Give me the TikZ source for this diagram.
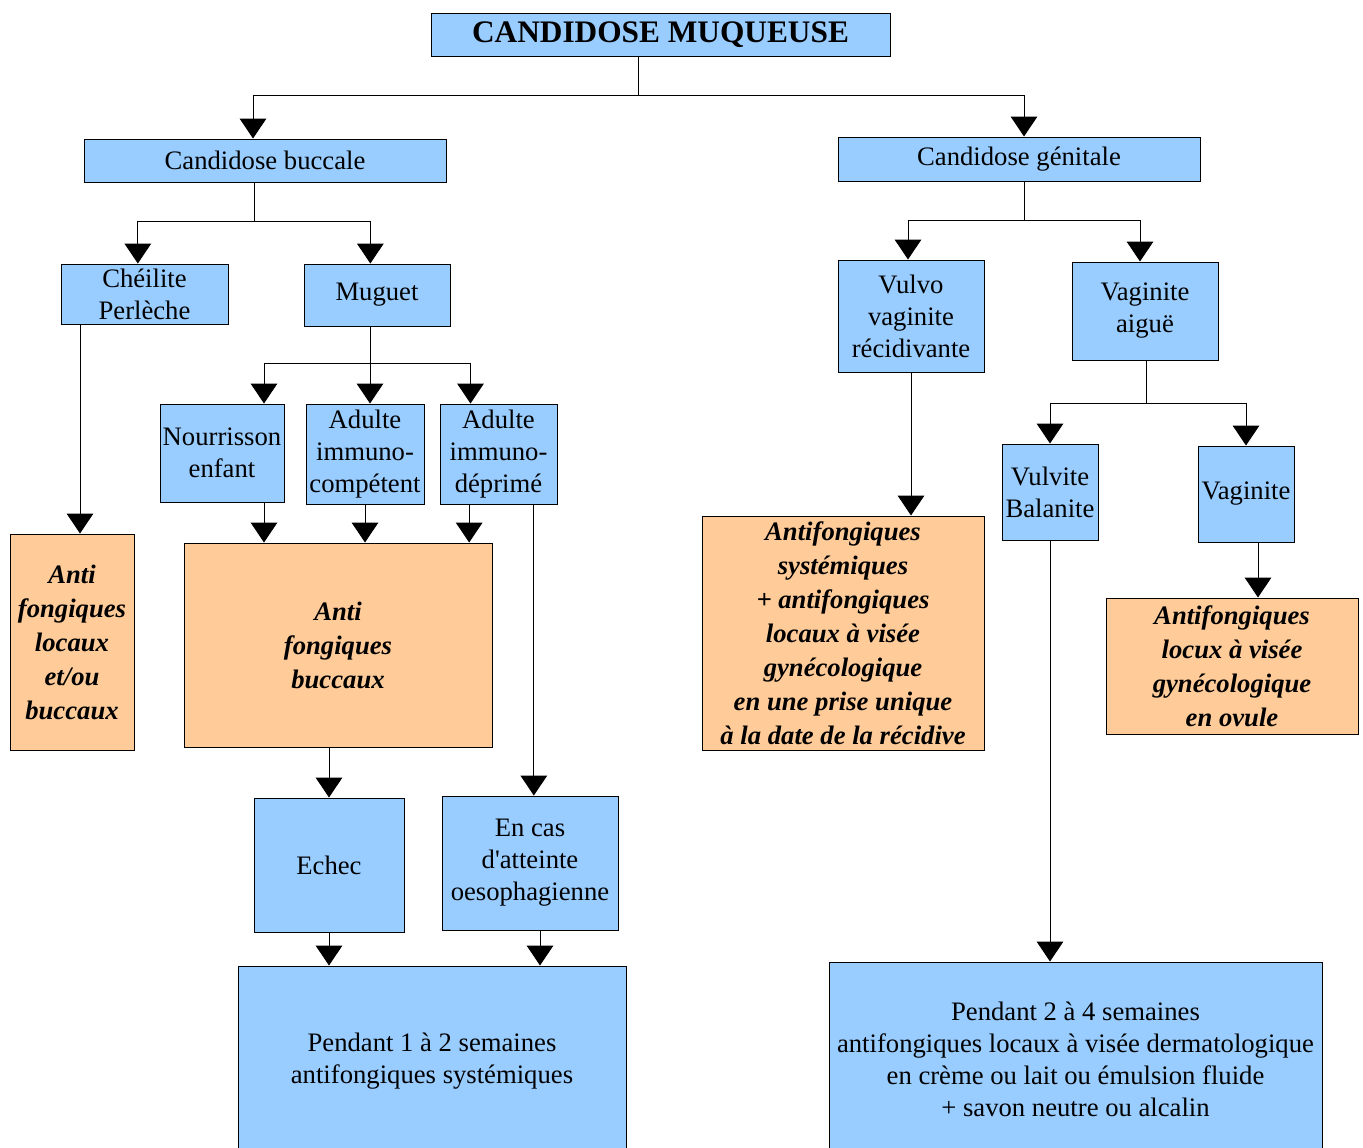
\documentclass[tikz,border=0pt]{standalone}
\usepackage{fontspec}
\setmainfont{LiberationSerif}[Extension=.ttf, UprightFont=*-Regular, BoldFont=*-Bold, ItalicFont=*-Italic, BoldItalicFont=*-BoldItalic]
\usetikzlibrary{positioning}
\usetikzlibrary{calc}
\usetikzlibrary{arrows.meta}

\definecolor{bleubox}{HTML}{99CCFF}
\definecolor{pechebox}{HTML}{FFCC99}

\begin{document}
\begin{tikzpicture}[x=0.75pt, y=-0.75pt, line width=0.75pt,
    cadre/.style 2 args={draw, inner sep=1pt, align=center,
        minimum width=#1*0.75pt, minimum height=#2*0.75pt},
    bleu/.style={fill=bleubox, font=\fontsize{20}{24}\selectfont},
    peche/.style={fill=pechebox, font=\fontsize{20}{25.5}\selectfont\bfseries\itshape},
    fleche/.style={-{Triangle[width=20pt,length=15pt]}}]
    \useasboundingbox (0,0) rectangle (1363,1147);

    \node[cadre={459}{43}, bleu, font=\fontsize{23.5}{28}\selectfont\bfseries] (titre) at (660.5,35) {CANDIDOSE MUQUEUSE};
    \node[cadre={362}{43}, bleu] (buccale) at (265,160.5) {Candidose buccale};
    \node[cadre={362}{44}, bleu] (genitale) at (1019,159) {Candidose génitale};
    \node[cadre={167}{60}, bleu] (cheilite) at (144.5,294) {Chéilite\\Perlèche};
    \node[cadre={146}{62}, bleu] (muguet) at (377,295) {Muguet};
    \node[cadre={146}{112}, bleu] (vulvo) at (911,316) {Vulvo\\vaginite\\récidivante};
    \node[cadre={146}{98}, bleu] (aigue) at (1145,311) {Vaginite\\aiguë};
    \node[cadre={124}{98}, bleu] (nourrisson) at (222,453) {Nourrisson\\enfant};
    \node[cadre={118}{100}, bleu] (competent) at (365,454) {Adulte\\immuno-\\compétent};
    \node[cadre={117}{100}, bleu] (deprime) at (498.5,454) {Adulte\\immuno-\\déprimé};
    \node[cadre={124}{216}, peche] (locaux) at (72,642) {Anti\\fongiques\\locaux\\et/ou\\buccaux};
    \node[cadre={308}{204}, peche] (bucaux) at (338,645) {Anti\\fongiques\\buccaux};
    \node[cadre={96}{96}, bleu] (vulvite) at (1050,492) {Vulvite\\Balanite};
    \node[cadre={96}{96}, bleu] (vaginite) at (1246,494) {Vaginite};
    \node[cadre={282}{234}, peche] (recidive) at (843,633) {Antifongiques\\systémiques\\+ antifongiques\\locaux à visée\\gynécologique\\en une prise unique\\à la date de la récidive};
    \node[cadre={252}{136}, peche] (ovule) at (1232,666) {Antifongiques\\locux à visée\\gynécologique\\en ovule};
    \node[cadre={150}{134}, bleu] (echec) at (329,865) {Echec};
    \node[cadre={176}{134}, bleu] (atteinte) at (530,863) {En cas\\d\textquotesingle atteinte\\oesophagienne};
    \node[cadre={388}{190}, bleu] (systemique) at (432,1061) {Pendant 1 à 2 semaines\\antifongiques systémiques};
    \node[cadre={493}{194}, bleu] (dermato) at (1075.5,1059) {Pendant 2 à 4 semaines\\antifongiques locaux à visée dermatologique\\en crème ou lait ou émulsion fluide\\+ savon neutre ou alcalin};

    \coordinate (j0) at (638,95);
    \draw (titre.south -| j0) -- (j0);
    \draw[fleche] (j0) -| ([xshift=-9pt]buccale.north);
    \draw[fleche] (j0) -| ([xshift=3.75pt]genitale.north);
    \coordinate (j1) at (254,221);
    \draw (buccale.south -| j1) -- (j1);
    \draw[fleche] (j1) -| ([xshift=-5pt]cheilite.north);
    \draw[fleche] (j1) -| ([xshift=-5pt]muguet.north);
    \coordinate (j2) at (370,363);
    \draw (muguet.south -| j2) -- (j2);
    \draw[fleche] (j2) -| ([xshift=31.5pt]nourrisson.north);
    \draw[fleche] (j2) -- (competent.north -| j2);
    \draw[fleche] (j2) -| ([xshift=-21pt]deprime.north);
    \coordinate (j3) at (1024,220);
    \draw (genitale.south -| j3) -- (j3);
    \draw[fleche] (j3) -| ([xshift=-2.25pt]vulvo.north);
    \draw[fleche] (j3) -| ([xshift=-3.75pt]aigue.north);
    \coordinate (j4) at (1146,403);
    \draw (aigue.south -| j4) -- (j4);
    \draw[fleche] (j4) -| (vulvite.north);
    \draw[fleche] (j4) -| (vaginite.north);

    \coordinate (p1) at ([xshift=6pt]locaux.north);
    \draw[fleche] (cheilite.south -| p1) -- (p1);
    \coordinate (p2) at ([xshift=31.5pt]nourrisson.south);
    \draw[fleche] (p2) -- (p2 |- bucaux.north);
    \draw[fleche] (competent.south) -- (competent.south |- bucaux.north);
    \coordinate (p3) at ([xshift=-22pt]deprime.south);
    \draw[fleche] (p3) -- (p3 |- bucaux.north);
    \coordinate (p4) at ([xshift=26.5pt]deprime.south);
    \draw[fleche] (p4) -- (p4 |- atteinte.north);
    \draw[fleche] (bucaux.south -| echec.north) -- (echec.north);
    \draw[fleche] (echec.south) -- (echec.south |- systemique.north);
    \coordinate (p5) at ([xshift=7.5pt]atteinte.south);
    \draw[fleche] (p5) -- (p5 |- systemique.north);
    \draw[fleche] (vulvo.south) -- (vulvo.south |- recidive.north);
    \draw[fleche] (vulvite.south) -- (vulvite.south |- dermato.north);
    \coordinate (p6) at ([xshift=9pt]vaginite.south);
    \draw[fleche] (p6) -- (p6 |- ovule.north);
\end{tikzpicture}
\end{document}
